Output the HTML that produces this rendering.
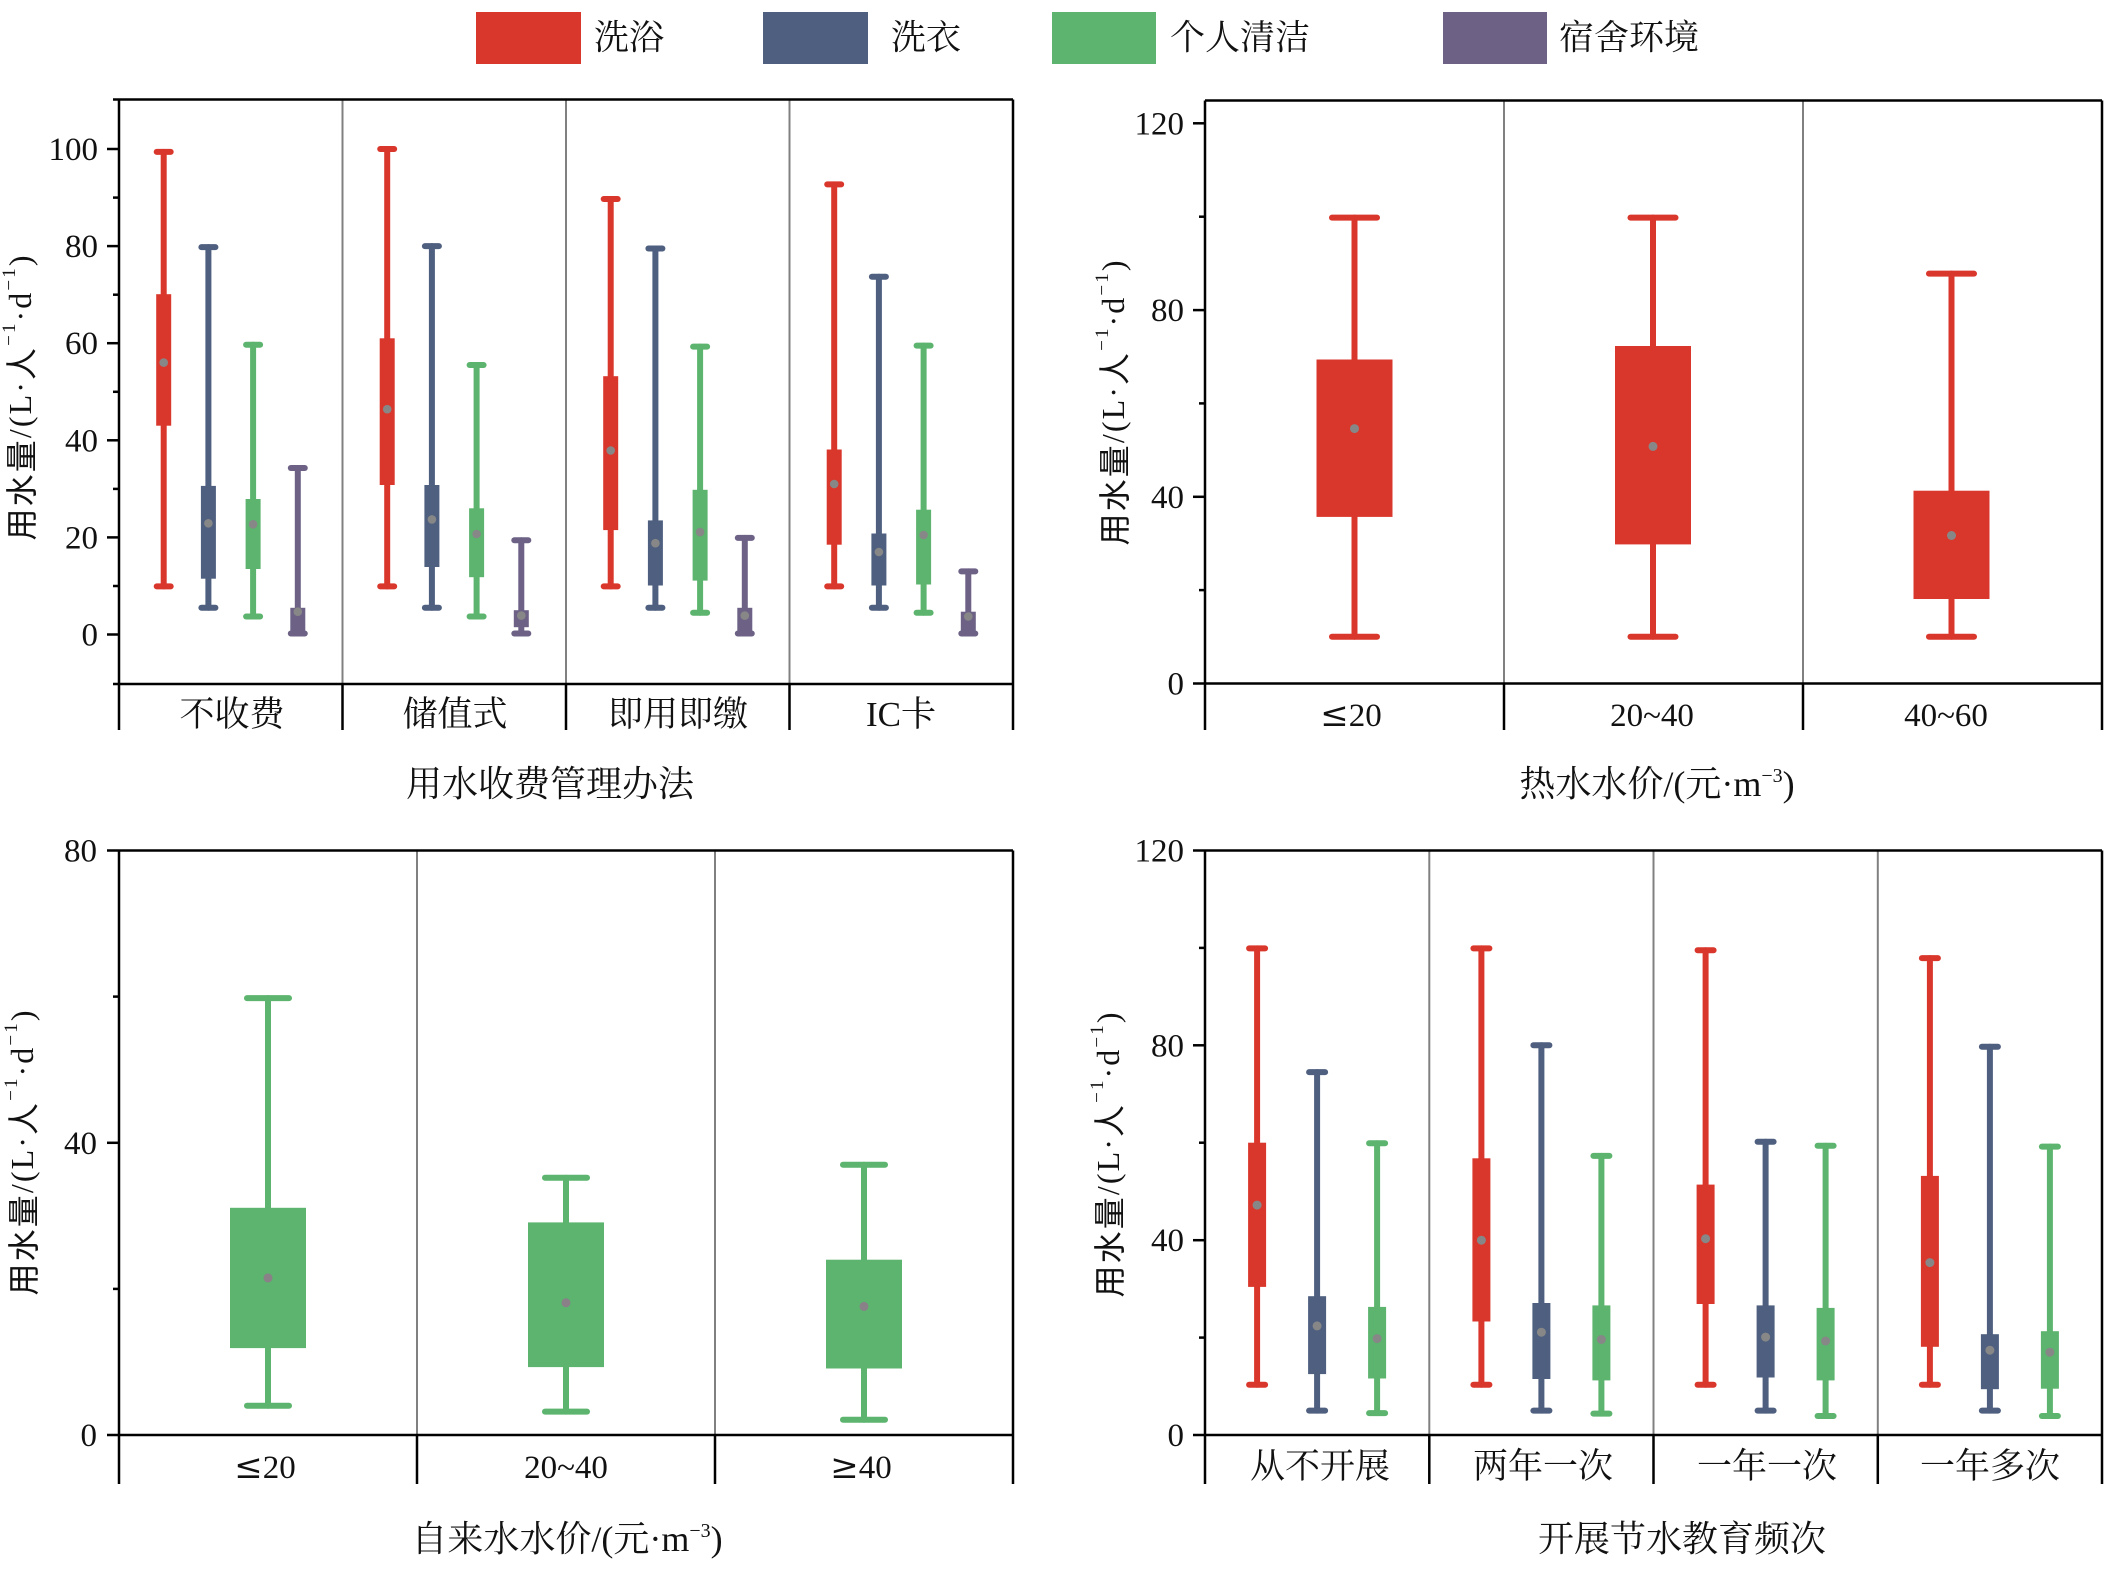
<!DOCTYPE html>
<html>
<head>
<meta charset="utf-8">
<style>
html,body{margin:0;padding:0;background:#fff;}
svg{display:block;}
.tk{font-family:"Liberation Serif","DejaVu Serif",serif;font-size:33px;fill:#111;}
.cn{font-family:"Liberation Serif","Noto Serif CJK SC",serif;fill:#111;}
.yl{font-family:"Liberation Serif","Noto Sans CJK SC",sans-serif;font-size:32px;fill:#111;}
.le{font-family:"DejaVu Serif",serif;font-size:34px;}
</style>
</head>
<body>
<svg width="2107" height="1569" viewBox="0 0 2107 1569" xmlns="http://www.w3.org/2000/svg">
<rect width="2107" height="1569" fill="#fff"/>

<!-- Legend -->
<rect x="476" y="12" width="105" height="52" fill="#DA372C"/>
<text class="cn" x="594" y="38" font-size="35" dominant-baseline="central">洗浴</text>
<rect x="763" y="12" width="105" height="52" fill="#4E5F7F"/>
<text class="cn" x="891" y="38" font-size="35" dominant-baseline="central">洗衣</text>
<rect x="1052" y="12" width="104" height="52" fill="#5CB46E"/>
<text class="cn" x="1170" y="38" font-size="35" dominant-baseline="central">个人清洁</text>
<rect x="1443" y="12" width="104" height="52" fill="#6D6286"/>
<text class="cn" x="1559" y="38" font-size="35" dominant-baseline="central">宿舍环境</text>

<!-- ================= PANEL 1 (top-left) ================= -->
<g stroke="#808080" stroke-width="2">
<line x1="342.5" y1="99.5" x2="342.5" y2="684"/>
<line x1="566" y1="99.5" x2="566" y2="684"/>
<line x1="789.5" y1="99.5" x2="789.5" y2="684"/>
</g>
<g stroke-linecap="round">
<g stroke="#DA372C" fill="#DA372C" stroke-width="6">
<line x1="163.7" y1="151.9" x2="163.7" y2="586.4"/><line x1="156.7" y1="151.9" x2="170.7" y2="151.9"/><line x1="156.7" y1="586.4" x2="170.7" y2="586.4"/>
<rect x="156.2" y="294.2" width="15" height="131.5" stroke="none"/>
<line x1="387.2" y1="149" x2="387.2" y2="586.4"/><line x1="380.2" y1="149" x2="394.2" y2="149"/><line x1="380.2" y1="586.4" x2="394.2" y2="586.4"/>
<rect x="379.7" y="338.3" width="15" height="146.7" stroke="none"/>
<line x1="610.7" y1="199" x2="610.7" y2="586.4"/><line x1="603.7" y1="199" x2="617.7" y2="199"/><line x1="603.7" y1="586.4" x2="617.7" y2="586.4"/>
<rect x="603.2" y="376.2" width="15" height="153.9" stroke="none"/>
<line x1="834.2" y1="184.4" x2="834.2" y2="586.4"/><line x1="827.2" y1="184.4" x2="841.2" y2="184.4"/><line x1="827.2" y1="586.4" x2="841.2" y2="586.4"/>
<rect x="826.7" y="449.5" width="15" height="95.2" stroke="none"/>
</g>
<g stroke="#4E5F7F" fill="#4E5F7F" stroke-width="6">
<line x1="208.4" y1="247.1" x2="208.4" y2="607.8"/><line x1="201.4" y1="247.1" x2="215.4" y2="247.1"/><line x1="201.4" y1="607.8" x2="215.4" y2="607.8"/>
<rect x="200.9" y="485.9" width="15" height="92.8" stroke="none"/>
<line x1="431.9" y1="246.1" x2="431.9" y2="607.8"/><line x1="424.9" y1="246.1" x2="438.9" y2="246.1"/><line x1="424.9" y1="607.8" x2="438.9" y2="607.8"/>
<rect x="424.4" y="485" width="15" height="82" stroke="none"/>
<line x1="655.4" y1="248.5" x2="655.4" y2="607.8"/><line x1="648.4" y1="248.5" x2="662.4" y2="248.5"/><line x1="648.4" y1="607.8" x2="662.4" y2="607.8"/>
<rect x="647.9" y="520.4" width="15" height="65.1" stroke="none"/>
<line x1="878.9" y1="276.7" x2="878.9" y2="607.8"/><line x1="871.9" y1="276.7" x2="885.9" y2="276.7"/><line x1="871.9" y1="607.8" x2="885.9" y2="607.8"/>
<rect x="871.4" y="533.5" width="15" height="52" stroke="none"/>
</g>
<g stroke="#5CB46E" fill="#5CB46E" stroke-width="6">
<line x1="253.1" y1="344.7" x2="253.1" y2="616.5"/><line x1="246.1" y1="344.7" x2="260.1" y2="344.7"/><line x1="246.1" y1="616.5" x2="260.1" y2="616.5"/>
<rect x="245.6" y="499" width="15" height="70" stroke="none"/>
<line x1="476.6" y1="365" x2="476.6" y2="616.5"/><line x1="469.6" y1="365" x2="483.6" y2="365"/><line x1="469.6" y1="616.5" x2="483.6" y2="616.5"/>
<rect x="469.1" y="508.3" width="15" height="68.9" stroke="none"/>
<line x1="700.1" y1="346.6" x2="700.1" y2="612.7"/><line x1="693.1" y1="346.6" x2="707.1" y2="346.6"/><line x1="693.1" y1="612.7" x2="707.1" y2="612.7"/>
<rect x="692.6" y="489.8" width="15" height="90.8" stroke="none"/>
<line x1="923.6" y1="345.6" x2="923.6" y2="612.7"/><line x1="916.6" y1="345.6" x2="930.6" y2="345.6"/><line x1="916.6" y1="612.7" x2="930.6" y2="612.7"/>
<rect x="916.1" y="509.7" width="15" height="74.8" stroke="none"/>
</g>
<g stroke="#6D6286" fill="#6D6286" stroke-width="6">
<line x1="297.8" y1="468" x2="297.8" y2="633.5"/><line x1="290.8" y1="468" x2="304.8" y2="468"/><line x1="290.8" y1="633.5" x2="304.8" y2="633.5"/>
<rect x="290.3" y="607.8" width="15" height="25.7" stroke="none"/>
<line x1="521.3" y1="540.3" x2="521.3" y2="633.5"/><line x1="514.3" y1="540.3" x2="528.3" y2="540.3"/><line x1="514.3" y1="633.5" x2="528.3" y2="633.5"/>
<rect x="513.8" y="610.2" width="15" height="17" stroke="none"/>
<line x1="744.8" y1="537.9" x2="744.8" y2="633.5"/><line x1="737.8" y1="537.9" x2="751.8" y2="537.9"/><line x1="737.8" y1="633.5" x2="751.8" y2="633.5"/>
<rect x="737.3" y="607.8" width="15" height="25.7" stroke="none"/>
<line x1="968.3" y1="571.4" x2="968.3" y2="633.5"/><line x1="961.3" y1="571.4" x2="975.3" y2="571.4"/><line x1="961.3" y1="633.5" x2="975.3" y2="633.5"/>
<rect x="960.8" y="611.7" width="15" height="21.8" stroke="none"/>
</g>
</g>
<g fill="#878787">
<circle cx="163.7" cy="362.6" r="4.3"/><circle cx="208.4" cy="523.3" r="4.3"/><circle cx="253.1" cy="524.3" r="4.3"/><circle cx="297.8" cy="611.7" r="4.3"/>
<circle cx="387.2" cy="409.2" r="4.3"/><circle cx="431.9" cy="519.4" r="4.3"/><circle cx="476.6" cy="534" r="4.3"/><circle cx="521.3" cy="615.6" r="4.3"/>
<circle cx="610.7" cy="450.5" r="4.3"/><circle cx="655.4" cy="543.2" r="4.3"/><circle cx="700.1" cy="532.1" r="4.3"/><circle cx="744.8" cy="615.6" r="4.3"/>
<circle cx="834.2" cy="484" r="4.3"/><circle cx="878.9" cy="552" r="4.3"/><circle cx="923.6" cy="535" r="4.3"/><circle cx="968.3" cy="616.5" r="4.3"/>
</g>
<g stroke="#000" stroke-width="2.5" fill="none">
<line x1="113" y1="99.5" x2="1013" y2="99.5"/>
<line x1="1013" y1="99.5" x2="1013" y2="730"/>
<line x1="119" y1="99.5" x2="119" y2="730"/>
<line x1="113" y1="684" x2="1013" y2="684"/>
<line x1="342.5" y1="684" x2="342.5" y2="730"/>
<line x1="566" y1="684" x2="566" y2="730"/>
<line x1="789.5" y1="684" x2="789.5" y2="730"/>
<line x1="107" y1="634.5" x2="119" y2="634.5"/>
<line x1="107" y1="537.4" x2="119" y2="537.4"/>
<line x1="107" y1="440.3" x2="119" y2="440.3"/>
<line x1="107" y1="343.2" x2="119" y2="343.2"/>
<line x1="107" y1="246.1" x2="119" y2="246.1"/>
<line x1="107" y1="149" x2="119" y2="149"/>
<line x1="113" y1="586" x2="119" y2="586"/>
<line x1="113" y1="488.9" x2="119" y2="488.9"/>
<line x1="113" y1="391.8" x2="119" y2="391.8"/>
<line x1="113" y1="294.7" x2="119" y2="294.7"/>
<line x1="113" y1="197.6" x2="119" y2="197.6"/>
</g>
<g class="tk" text-anchor="end">
<text x="98" y="645.5">0</text>
<text x="98" y="548.4">20</text>
<text x="98" y="451.3">40</text>
<text x="98" y="354.2">60</text>
<text x="98" y="257.1">80</text>
<text x="98" y="160">100</text>
</g>
<g class="cn" font-size="35" text-anchor="middle">
<text x="232" y="726">不收费</text>
<text x="455" y="726">储值式</text>
<text x="678" y="726">即用即缴</text>
<text x="901" y="726">IC卡</text>
</g>
<text class="cn" x="550" y="796" font-size="36" text-anchor="middle">用水收费管理办法</text>
<text class="yl" transform="translate(20,398) rotate(-90)" text-anchor="middle" dominant-baseline="central" textLength="285" lengthAdjust="spacing"><tspan font-family="Noto Sans CJK SC, sans-serif">用水量</tspan><tspan font-family="Liberation Serif, serif">/(L·</tspan><tspan font-family="Noto Sans CJK SC, sans-serif">人</tspan><tspan font-family="Liberation Serif, serif" font-size="19" dy="-11">−1</tspan><tspan font-family="Liberation Serif, serif" dy="11">·d</tspan><tspan font-family="Liberation Serif, serif" font-size="19" dy="-11">−1</tspan><tspan font-family="Liberation Serif, serif" dy="11">)</tspan></text>

<!-- ================= PANEL 2 (top-right) ================= -->
<g stroke="#808080" stroke-width="2">
<line x1="1504" y1="100.5" x2="1504" y2="683.5"/>
<line x1="1803" y1="100.5" x2="1803" y2="683.5"/>
</g>
<g stroke="#DA372C" fill="#DA372C" stroke-width="6" stroke-linecap="round">
<line x1="1354.5" y1="217.6" x2="1354.5" y2="636.8"/><line x1="1332" y1="217.6" x2="1377" y2="217.6"/><line x1="1332" y1="636.8" x2="1377" y2="636.8"/>
<rect x="1316.5" y="359.5" width="76" height="157.4" stroke="none"/>
<line x1="1653" y1="217.6" x2="1653" y2="636.8"/><line x1="1630.5" y1="217.6" x2="1675.5" y2="217.6"/><line x1="1630.5" y1="636.8" x2="1675.5" y2="636.8"/>
<rect x="1615" y="346" width="76" height="198.4" stroke="none"/>
<line x1="1951.5" y1="273.6" x2="1951.5" y2="636.8"/><line x1="1929" y1="273.6" x2="1974" y2="273.6"/><line x1="1929" y1="636.8" x2="1974" y2="636.8"/>
<rect x="1913.5" y="490.7" width="76" height="108.3" stroke="none"/>
</g>
<g fill="#878787">
<circle cx="1354.5" cy="428.6" r="4.5"/><circle cx="1653" cy="446.4" r="4.5"/><circle cx="1951.5" cy="535.5" r="4.5"/>
</g>
<g stroke="#000" stroke-width="2.5" fill="none">
<line x1="1205" y1="100.5" x2="2102" y2="100.5"/>
<line x1="2102" y1="100.5" x2="2102" y2="730"/>
<line x1="1205" y1="100.5" x2="1205" y2="730"/>
<line x1="1193" y1="683.5" x2="2102" y2="683.5"/>
<line x1="1504" y1="683.5" x2="1504" y2="730"/>
<line x1="1803" y1="683.5" x2="1803" y2="730"/>
<line x1="1193" y1="496.8" x2="1205" y2="496.8"/>
<line x1="1193" y1="310.1" x2="1205" y2="310.1"/>
<line x1="1193" y1="123.3" x2="1205" y2="123.3"/>
<line x1="1199" y1="590.1" x2="1205" y2="590.1"/>
<line x1="1199" y1="403.4" x2="1205" y2="403.4"/>
<line x1="1199" y1="216.7" x2="1205" y2="216.7"/>
</g>
<g class="tk" text-anchor="end">
<text x="1184" y="694.5">0</text>
<text x="1184" y="507.8">40</text>
<text x="1184" y="321.1">80</text>
<text x="1184" y="134.3">120</text>
</g>
<g class="tk" font-size="35" text-anchor="middle">
<text x="1351" y="726"><tspan class="le">≤</tspan>20</text>
<text x="1652" y="726">20~40</text>
<text x="1946" y="726">40~60</text>
</g>
<text class="cn" x="1657" y="796" font-size="36" text-anchor="middle">热水水价/(元·m<tspan font-size="20" dy="-14">−3</tspan><tspan dy="14">)</tspan></text>
<text class="yl" transform="translate(1113,403) rotate(-90)" text-anchor="middle" dominant-baseline="central" textLength="285" lengthAdjust="spacing"><tspan font-family="Noto Sans CJK SC, sans-serif">用水量</tspan><tspan font-family="Liberation Serif, serif">/(L·</tspan><tspan font-family="Noto Sans CJK SC, sans-serif">人</tspan><tspan font-family="Liberation Serif, serif" font-size="19" dy="-11">−1</tspan><tspan font-family="Liberation Serif, serif" dy="11">·d</tspan><tspan font-family="Liberation Serif, serif" font-size="19" dy="-11">−1</tspan><tspan font-family="Liberation Serif, serif" dy="11">)</tspan></text>

<!-- ================= PANEL 3 (bottom-left) ================= -->
<g stroke="#808080" stroke-width="2">
<line x1="417" y1="850.5" x2="417" y2="1435"/>
<line x1="715" y1="850.5" x2="715" y2="1435"/>
</g>
<g stroke="#5CB46E" fill="#5CB46E" stroke-width="6" stroke-linecap="round">
<line x1="268" y1="998.1" x2="268" y2="1405.8"/><line x1="247" y1="998.1" x2="289" y2="998.1"/><line x1="247" y1="1405.8" x2="289" y2="1405.8"/>
<rect x="230" y="1207.8" width="76" height="140.3" stroke="none"/>
<line x1="566" y1="1177.8" x2="566" y2="1411.6"/><line x1="545" y1="1177.8" x2="587" y2="1177.8"/><line x1="545" y1="1411.6" x2="587" y2="1411.6"/>
<rect x="528" y="1222.4" width="76" height="144.7" stroke="none"/>
<line x1="864" y1="1164.7" x2="864" y2="1419.7"/><line x1="843" y1="1164.7" x2="885" y2="1164.7"/><line x1="843" y1="1419.7" x2="885" y2="1419.7"/>
<rect x="826" y="1259.7" width="76" height="108.8" stroke="none"/>
</g>
<g fill="#8a8088">
<circle cx="268" cy="1277.9" r="4.5"/><circle cx="566" cy="1302.8" r="4.5"/><circle cx="864" cy="1306.4" r="4.5"/>
</g>
<g stroke="#000" stroke-width="2.5" fill="none">
<line x1="107" y1="850.5" x2="1013" y2="850.5"/>
<line x1="1013" y1="850.5" x2="1013" y2="1484"/>
<line x1="119" y1="850.5" x2="119" y2="1484"/>
<line x1="107" y1="1435" x2="1013" y2="1435"/>
<line x1="417" y1="1435" x2="417" y2="1484"/>
<line x1="715" y1="1435" x2="715" y2="1484"/>
<line x1="107" y1="1142.8" x2="119" y2="1142.8"/>
<line x1="113" y1="1288.9" x2="119" y2="1288.9"/>
<line x1="113" y1="996.6" x2="119" y2="996.6"/>
</g>
<g class="tk" text-anchor="end">
<text x="97" y="1446">0</text>
<text x="97" y="1153.8">40</text>
<text x="97" y="861.5">80</text>
</g>
<g class="tk" font-size="35" text-anchor="middle">
<text x="265" y="1478"><tspan class="le">≤</tspan>20</text>
<text x="566" y="1478">20~40</text>
<text x="861" y="1478"><tspan class="le">≥</tspan>40</text>
</g>
<text class="cn" x="567" y="1551" font-size="36" text-anchor="middle">自来水水价/(元·m<tspan font-size="20" dy="-14">−3</tspan><tspan dy="14">)</tspan></text>
<text class="yl" transform="translate(22,1153) rotate(-90)" text-anchor="middle" dominant-baseline="central" textLength="285" lengthAdjust="spacing"><tspan font-family="Noto Sans CJK SC, sans-serif">用水量</tspan><tspan font-family="Liberation Serif, serif">/(L·</tspan><tspan font-family="Noto Sans CJK SC, sans-serif">人</tspan><tspan font-family="Liberation Serif, serif" font-size="19" dy="-11">−1</tspan><tspan font-family="Liberation Serif, serif" dy="11">·d</tspan><tspan font-family="Liberation Serif, serif" font-size="19" dy="-11">−1</tspan><tspan font-family="Liberation Serif, serif" dy="11">)</tspan></text>

<!-- ================= PANEL 4 (bottom-right) ================= -->
<g stroke="#808080" stroke-width="2">
<line x1="1429.3" y1="850.5" x2="1429.3" y2="1435"/>
<line x1="1653.5" y1="850.5" x2="1653.5" y2="1435"/>
<line x1="1877.8" y1="850.5" x2="1877.8" y2="1435"/>
</g>
<g stroke-linecap="round" stroke-width="6">
<g stroke="#DA372C" fill="#DA372C">
<line x1="1257.1" y1="948.4" x2="1257.1" y2="1384.8"/><line x1="1249.1" y1="948.4" x2="1265.1" y2="948.4"/><line x1="1249.1" y1="1384.8" x2="1265.1" y2="1384.8"/>
<rect x="1248.1" y="1142.7" width="18" height="144.2" stroke="none"/>
<line x1="1481.4" y1="948.4" x2="1481.4" y2="1384.8"/><line x1="1473.4" y1="948.4" x2="1489.4" y2="948.4"/><line x1="1473.4" y1="1384.8" x2="1489.4" y2="1384.8"/>
<rect x="1472.4" y="1158.3" width="18" height="163.2" stroke="none"/>
<line x1="1705.6" y1="950.3" x2="1705.6" y2="1384.8"/><line x1="1697.6" y1="950.3" x2="1713.6" y2="950.3"/><line x1="1697.6" y1="1384.8" x2="1713.6" y2="1384.8"/>
<rect x="1696.6" y="1184.6" width="18" height="119.4" stroke="none"/>
<line x1="1929.9" y1="958.1" x2="1929.9" y2="1384.8"/><line x1="1921.9" y1="958.1" x2="1937.9" y2="958.1"/><line x1="1921.9" y1="1384.8" x2="1937.9" y2="1384.8"/>
<rect x="1920.9" y="1175.9" width="18" height="170.9" stroke="none"/>
</g>
<g stroke="#4E5F7F" fill="#4E5F7F">
<line x1="1317.1" y1="1072.1" x2="1317.1" y2="1410.6"/><line x1="1309.1" y1="1072.1" x2="1325.1" y2="1072.1"/><line x1="1309.1" y1="1410.6" x2="1325.1" y2="1410.6"/>
<rect x="1308.1" y="1296.2" width="18" height="77.9" stroke="none"/>
<line x1="1541.4" y1="1045.3" x2="1541.4" y2="1410.6"/><line x1="1533.4" y1="1045.3" x2="1549.4" y2="1045.3"/><line x1="1533.4" y1="1410.6" x2="1549.4" y2="1410.6"/>
<rect x="1532.4" y="1303" width="18" height="76" stroke="none"/>
<line x1="1765.6" y1="1141.8" x2="1765.6" y2="1410.6"/><line x1="1757.6" y1="1141.8" x2="1773.6" y2="1141.8"/><line x1="1757.6" y1="1410.6" x2="1773.6" y2="1410.6"/>
<rect x="1756.6" y="1305.4" width="18" height="72.1" stroke="none"/>
<line x1="1989.9" y1="1046.8" x2="1989.9" y2="1410.6"/><line x1="1981.9" y1="1046.8" x2="1997.9" y2="1046.8"/><line x1="1981.9" y1="1410.6" x2="1997.9" y2="1410.6"/>
<rect x="1980.9" y="1334.2" width="18" height="55" stroke="none"/>
</g>
<g stroke="#5CB46E" fill="#5CB46E">
<line x1="1377.1" y1="1143.2" x2="1377.1" y2="1413.1"/><line x1="1369.1" y1="1143.2" x2="1385.1" y2="1143.2"/><line x1="1369.1" y1="1413.1" x2="1385.1" y2="1413.1"/>
<rect x="1368.1" y="1306.9" width="18" height="71.6" stroke="none"/>
<line x1="1601.4" y1="1155.9" x2="1601.4" y2="1413.6"/><line x1="1593.4" y1="1155.9" x2="1609.4" y2="1155.9"/><line x1="1593.4" y1="1413.6" x2="1609.4" y2="1413.6"/>
<rect x="1592.4" y="1305.4" width="18" height="75" stroke="none"/>
<line x1="1825.6" y1="1145.7" x2="1825.6" y2="1416"/><line x1="1817.6" y1="1145.7" x2="1833.6" y2="1145.7"/><line x1="1817.6" y1="1416" x2="1833.6" y2="1416"/>
<rect x="1816.6" y="1307.9" width="18" height="72.5" stroke="none"/>
<line x1="2049.9" y1="1146.6" x2="2049.9" y2="1416"/><line x1="2041.9" y1="1146.6" x2="2057.9" y2="1146.6"/><line x1="2041.9" y1="1416" x2="2057.9" y2="1416"/>
<rect x="2040.9" y="1331.2" width="18" height="57.5" stroke="none"/>
</g>
</g>
<g fill="#878787">
<circle cx="1257.1" cy="1205.1" r="4.5"/><circle cx="1317.1" cy="1325.9" r="4.5"/><circle cx="1377.1" cy="1338.6" r="4.5"/>
<circle cx="1481.4" cy="1240.2" r="4.5"/><circle cx="1541.4" cy="1332.2" r="4.5"/><circle cx="1601.4" cy="1339.5" r="4.5"/>
<circle cx="1705.6" cy="1238.7" r="4.5"/><circle cx="1765.6" cy="1337.1" r="4.5"/><circle cx="1825.6" cy="1341" r="4.5"/>
<circle cx="1929.9" cy="1262.6" r="4.5"/><circle cx="1989.9" cy="1350.2" r="4.5"/><circle cx="2049.9" cy="1352.2" r="4.5"/>
</g>
<g stroke="#000" stroke-width="2.5" fill="none">
<line x1="1193" y1="850.5" x2="2102" y2="850.5"/>
<line x1="2102" y1="850.5" x2="2102" y2="1484"/>
<line x1="1205" y1="850.5" x2="1205" y2="1484"/>
<line x1="1193" y1="1435" x2="2102" y2="1435"/>
<line x1="1429.3" y1="1435" x2="1429.3" y2="1484"/>
<line x1="1653.5" y1="1435" x2="1653.5" y2="1484"/>
<line x1="1877.8" y1="1435" x2="1877.8" y2="1484"/>
<line x1="1193" y1="1240.2" x2="1205" y2="1240.2"/>
<line x1="1193" y1="1045.3" x2="1205" y2="1045.3"/>
<line x1="1199" y1="1337.6" x2="1205" y2="1337.6"/>
<line x1="1199" y1="1142.7" x2="1205" y2="1142.7"/>
<line x1="1199" y1="947.9" x2="1205" y2="947.9"/>
</g>
<g class="tk" text-anchor="end">
<text x="1184" y="1446">0</text>
<text x="1184" y="1251.2">40</text>
<text x="1184" y="1056.3">80</text>
<text x="1184" y="861.5">120</text>
</g>
<g class="cn" font-size="35" text-anchor="middle">
<text x="1320" y="1478">从不开展</text>
<text x="1543" y="1478">两年一次</text>
<text x="1767" y="1478">一年一次</text>
<text x="1990" y="1478">一年多次</text>
</g>
<text class="cn" x="1682" y="1551" font-size="36" text-anchor="middle">开展节水教育频次</text>
<text class="yl" transform="translate(1108,1155) rotate(-90)" text-anchor="middle" dominant-baseline="central" textLength="285" lengthAdjust="spacing"><tspan font-family="Noto Sans CJK SC, sans-serif">用水量</tspan><tspan font-family="Liberation Serif, serif">/(L·</tspan><tspan font-family="Noto Sans CJK SC, sans-serif">人</tspan><tspan font-family="Liberation Serif, serif" font-size="19" dy="-11">−1</tspan><tspan font-family="Liberation Serif, serif" dy="11">·d</tspan><tspan font-family="Liberation Serif, serif" font-size="19" dy="-11">−1</tspan><tspan font-family="Liberation Serif, serif" dy="11">)</tspan></text>
</svg>
</body>
</html>
